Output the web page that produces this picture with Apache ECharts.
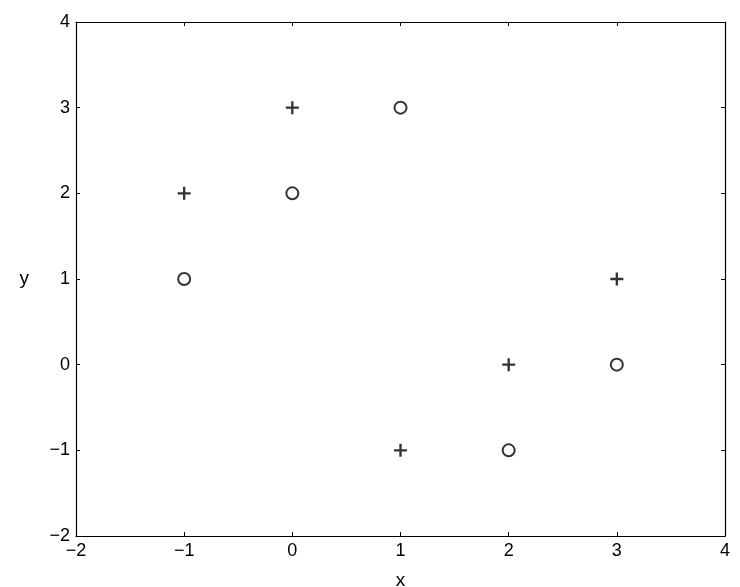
<!DOCTYPE html>
<html>
<head>
<meta charset="utf-8">
<script src="https://cdn.jsdelivr.net/npm/echarts@6/dist/echarts.min.js"></script>
<style>
  html, body { margin: 0; padding: 0; background: #fff; }
  #chart { width: 740px; height: 587px; }
</style>
</head>
<body>
<div id="chart"></div>
<script>
// data points
var plusX = [0, -1, 3, 2, 1];
var plusY = [3, 2, 1, 0, -1];
var circleX = [1, 0, -1, 3, 2];
var circleY = [3, 2, 1, 0, -1];

var axisMin = -2;
var axisMax = 4;

function pairs(xs, ys) {
    var out = [];
    for (let i = 0; i < xs.length; i++) {
        out.push([xs[i], ys[i]]);
    }
    return out;
}

function fmt(v) {
    return v < 0 ? '\u2212' + Math.abs(v) : String(v);
}

var fontName = 'Liberation Sans, Arial, sans-serif';

function makeAxis(pos, showLabel, name) {
    var ax = {
        type: 'value',
        position: pos,
        min: axisMin,
        max: axisMax,
        interval: 1,
        splitLine: { show: false },
        axisLine: { show: true, onZero: false, lineStyle: { color: '#000', width: 1.2 } },
        axisTick: { show: true, inside: true, length: 4, lineStyle: { color: '#000' } },
        axisLabel: {
            show: showLabel,
            margin: 6,
            color: '#000',
            fontSize: 18,
            fontFamily: fontName,
            formatter: fmt
        }
    };
    if (name) {
        ax.name = name;
        ax.nameLocation = 'middle';
        ax.nameTextStyle = { color: '#000', fontSize: 19, fontFamily: fontName };
    }
    return ax;
}

var chartDiv = document.getElementById('chart');
var chart = echarts.init(chartDiv, null, { renderer: 'canvas' });

var xA = makeAxis('bottom', true, 'x');
xA.nameGap = 35;
var xTop = makeAxis('top', false);
var yA = makeAxis('left', true, 'y');
yA.nameGap = 47;
yA.nameRotate = 0;
var yRight = makeAxis('right', false);

var option = {
    animation: false,
    backgroundColor: '#fff',
    grid: { left: 76, right: 15, top: 22, bottom: 51, outerBoundsMode: 'none', containLabel: false },
    xAxis: [xA, xTop],
    yAxis: [yA, yRight],
    series: [
        {
            name: 'plus',
            type: 'scatter',
            symbol: 'path://M4.1,0H5.9V4.1H10V5.9H5.9V10H4.1V5.9H0V4.1H4.1Z',
            symbolSize: 13,
            itemStyle: { color: '#000' },
            data: pairs(plusX, plusY)
        },
        {
            name: 'circle',
            type: 'scatter',
            symbol: 'emptyCircle',
            symbolSize: 12,
            itemStyle: { color: '#000', borderColor: '#000', borderWidth: 2 },
            data: pairs(circleX, circleY)
        }
    ]
};

chart.setOption(option);
</script>
</body>
</html>
